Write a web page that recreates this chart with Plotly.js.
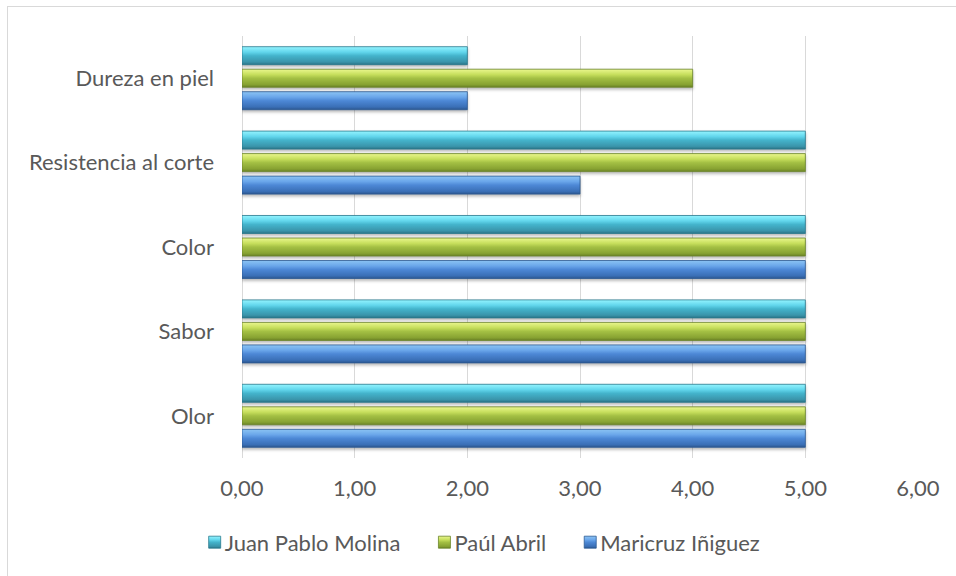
<!DOCTYPE html>
<html>
<head>
<meta charset="utf-8">
<script src="https://cdn.plot.ly/plotly-3.0.1.min.js"></script>
<style>
  html, body { margin: 0; padding: 0; background: #ffffff; }
  #wrap { position: relative; width: 956px; height: 576px; overflow: hidden; }
  #frame { position: absolute; left: 7px; top: 6px; width: 980px; height: 600px;
           border-left: 1px solid #d9d9d9; border-top: 1px solid #d9d9d9; pointer-events: none; }
  #chart { position: absolute; left: 0; top: 0; width: 956px; height: 576px; }
  .barlayer .point path { filter: drop-shadow(0px 2px 1.5px rgba(0,0,0,0.28)); }
</style>
</head>
<body>
<div id="wrap">
  <div id="chart"></div>
  <div id="frame"></div>
</div>
<script>
// Sensory attributes evaluated (bottom to top)
const categories = ["Olor", "Sabor", "Color", "Resistencia al corte", "Dureza en piel"];

// Scores per evaluator
const maricruz = [5, 5, 5, 3, 2];
const paul     = [5, 5, 5, 5, 4];
const juan     = [5, 5, 5, 5, 2];

const seriesNames = ["Maricruz Iñiguez", "Paúl Abril", "Juan Pablo Molina"];
const seriesValues = [maricruz, paul, juan];
const baseColors = ["#4a86d4", "#9cbc3c", "#3fb6d0"];
const edgeColors = ["#2c5a94", "#6a8428", "#2a7a8e"];

// Gradient stops for the glossy bar look: [offset, colour]
const gradientStops = [
  [[0, "#8cc4f4"], [0.3, "#6aa6ea"], [0.5, "#4d88d6"], [0.85, "#3a6fb6"], [1, "#2c568e"]],
  [[0, "#eaf78e"], [0.3, "#c6de5c"], [0.5, "#a4c044"], [0.85, "#87a232"], [1, "#6a8226"]],
  [[0, "#94f4ff"], [0.3, "#62d6ec"], [0.5, "#44b4cc"], [0.85, "#3a94aa"], [1, "#2a7386"]]
];

const font = "Lato, 'Open Sans', 'Liberation Sans', sans-serif";
const fontSize = 22;
const textColor = "#595959";

const traces = seriesNames.map((name, i) => ({
  type: "bar",
  orientation: "h",
  name: name,
  y: categories,
  x: seriesValues[i],
  marker: { color: baseColors[i], line: { color: edgeColors[i], width: 0.8 } },
  hoverinfo: "x+name"
}));

const layout = {
  width: 956,
  height: 576,
  margin: { l: 242, r: 38, t: 36, b: 116 },
  paper_bgcolor: "rgba(0,0,0,0)",
  plot_bgcolor: "#ffffff",
  separators: ",.",
  barmode: "group",
  bargap: 0.2,
  bargroupgap: 0.2,
  font: { family: font, size: fontSize, color: textColor },
  showlegend: true,
  legend: {
    orientation: "h",
    traceorder: "reversed",
    x: -0.07, xanchor: "left",
    y: -0.2, yanchor: "middle",
    font: { family: font, size: fontSize, color: textColor },
    itemclick: false
  },
  xaxis: {
    range: [0, 6],
    dtick: 1,
    tick0: 0,
    tickformat: ".2f",
    showgrid: true,
    gridcolor: "#d9d9d9",
    gridwidth: 1,
    zeroline: true,
    zerolinecolor: "#d9d9d9",
    zerolinewidth: 1,
    showline: false,
    ticks: "",
    ticklabelstandoff: 15,
    tickfont: { family: font, size: fontSize, color: textColor },
    fixedrange: true
  },
  yaxis: {
    type: "category",
    categoryorder: "array",
    categoryarray: categories,
    showgrid: false,
    zeroline: false,
    showline: false,
    ticks: "",
    ticklabelstandoff: 27,
    tickfont: { family: font, size: fontSize, color: textColor },
    fixedrange: true
  }
};

Plotly.newPlot("chart", traces, layout, { displayModeBar: false }).then(gd => {
  // Apply vertical gradients to the drawn bars and legend swatches
  const svg = gd.querySelector("svg.main-svg");
  const ns = "http://www.w3.org/2000/svg";
  let defs = svg.querySelector("defs");
  if (!defs) { defs = document.createElementNS(ns, "defs"); svg.insertBefore(defs, svg.firstChild); }
  gradientStops.forEach((stops, i) => {
    const g = document.createElementNS(ns, "linearGradient");
    g.setAttribute("id", "barGrad" + i);
    g.setAttribute("x1", "0"); g.setAttribute("y1", "0");
    g.setAttribute("x2", "0"); g.setAttribute("y2", "1");
    stops.forEach(([off, col]) => {
      const s = document.createElementNS(ns, "stop");
      s.setAttribute("offset", off);
      s.setAttribute("stop-color", col);
      g.appendChild(s);
    });
    defs.appendChild(g);
  });
  gd.querySelectorAll(".barlayer .trace.bars").forEach((tr, i) => {
    tr.querySelectorAll(".point path").forEach(p => { p.style.fill = "url(#barGrad" + i + ")"; });
  });

  // Compact legend: swatch right next to its label, wider gaps between entries
  const scroll = gd.querySelector(".legend .scrollbox");
  if (scroll) scroll.removeAttribute("clip-path");
  const bg = gd.querySelector(".legend .bg");
  if (bg) bg.style.fill = "none";
  let xPos = null;
  gd.querySelectorAll(".legend .traces").forEach(tr => {
    const txt = tr.querySelector(".legendtext");
    const idx = seriesNames.indexOf(txt.textContent);
    tr.querySelectorAll(".legendpoints path").forEach(p => {
      p.style.fill = "url(#barGrad" + idx + ")";
      p.style.stroke = edgeColors[idx];
    });
    txt.setAttribute("x", 30);
    const m = /translate\(([-\d.]+)[ ,]+([-\d.]+)\)/.exec(tr.getAttribute("transform") || "");
    const ty = m ? parseFloat(m[2]) : 0;
    if (xPos === null) xPos = m ? parseFloat(m[1]) : 0;
    tr.setAttribute("transform", "translate(" + xPos + "," + ty + ")");
    xPos += txt.getComputedTextLength() + 54;
  });
});
</script>
</body>
</html>
